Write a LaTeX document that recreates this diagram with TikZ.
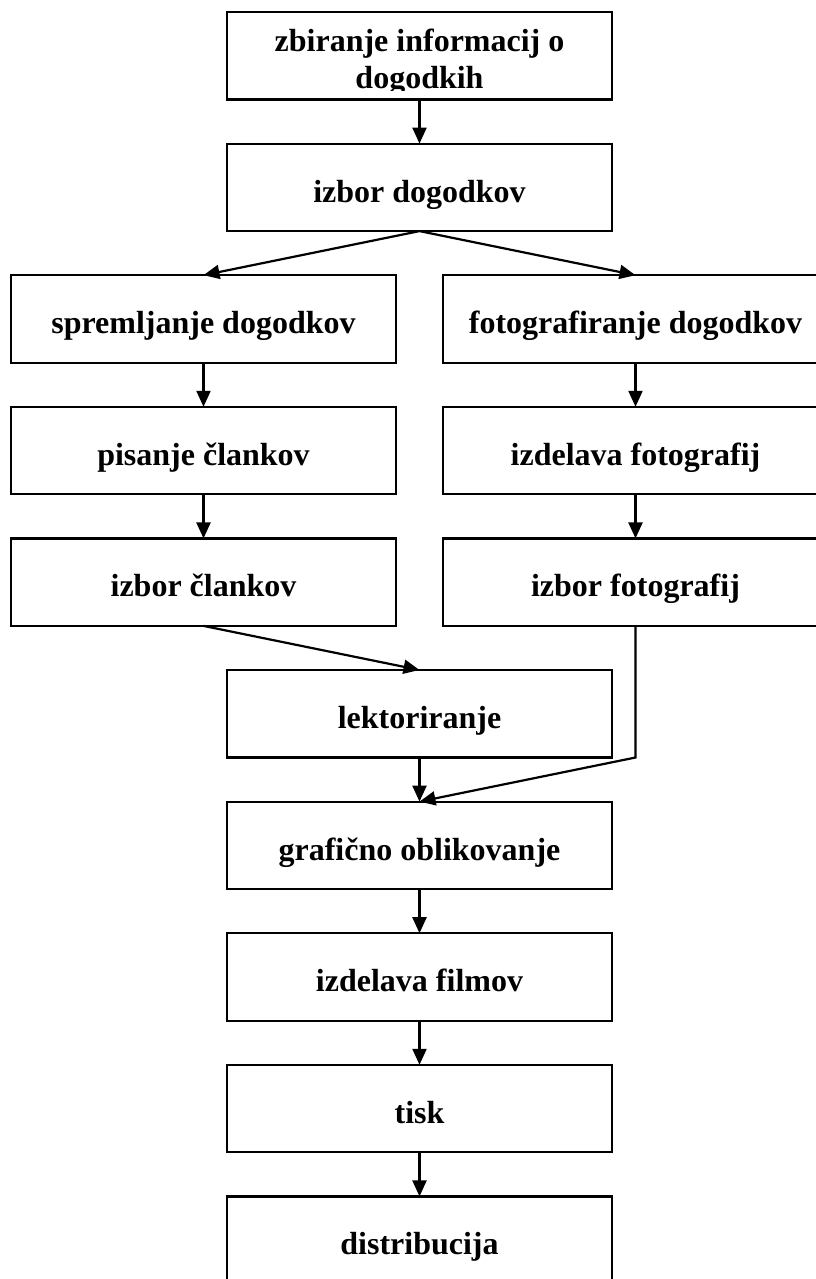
\documentclass[tikz,border=0pt]{standalone}
\usepackage{fontspec}
\setmainfont{Liberation Serif}
\usetikzlibrary{arrows.meta}
\tikzset{
  box/.style={draw=black, line width=2.2pt, fill=white, anchor=north, minimum width=385pt,
    inner sep=0pt, outer sep=0pt, text height=58.5pt, text depth=29pt,
    font=\fontsize{32}{37}\selectfont\bfseries},
  emptybox/.style={draw=black, line width=2.2pt, anchor=north, minimum width=385pt,
    minimum height=87.5pt, inner sep=0pt, outer sep=0pt},
  toptext/.style={anchor=base, inner sep=0pt, font=\fontsize{32}{37}\selectfont\bfseries},
  arr/.style={draw=black, line width=2.2pt, -{Triangle[length=16pt,width=14pt]}}
}
\begin{document}
\begin{tikzpicture}[x=1pt,y=-1pt]
\clip (0,0) rectangle (816,1279);
\fill[white] (0,0) rectangle (816,1279);
% middle column
\node[emptybox] (zbi) at (419.5,12) {};
\begin{scope}
  \clip (228,13) rectangle (611,91);
  \node[toptext] (zbi1) at (419.5,52) {zbiranje informacij o};
  \node[toptext] (zbi2) at (419.5,89) {dogodkih};
\end{scope}
\node[box] (izd) at (419.5,143.6) {izbor dogodkov};
% left column
\node[box] (spr) at (203.5,275.2) {spremljanje dogodkov};
\node[box] (pis) at (203.5,406.8) {pisanje člankov};
\node[box] (izc) at (203.5,538.4) {izbor člankov};
% right column
\node[box] (fot) at (635.5,275.2) {fotografiranje dogodkov};
\node[box] (izde) at (635.5,406.8) {izdelava fotografij};
\node[box] (izf) at (635.5,538.4) {izbor fotografij};
% lower middle
\node[box] (lek) at (419.5,670) {lektoriranje};
\node[box] (gra) at (419.5,801.6) {grafično oblikovanje};
\node[box] (fil) at (419.5,933.2) {izdelava filmov};
\node[box] (tis) at (419.5,1064.8) {tisk};
\node[box] (dis) at (419.5,1196.4) {distribucija};
% connectors
\draw[arr] (zbi.south) -- (izd.north);
\draw[arr] (izd.south) -- (spr.north);
\draw[arr] (izd.south) -- (fot.north);
\draw[arr] (spr.south) -- (pis.north);
\draw[arr] (pis.south) -- (izc.north);
\draw[arr] (fot.south) -- (izde.north);
\draw[arr] (izde.south) -- (izf.north);
\draw[arr] (izc.south) -- (lek.north);
\coordinate (bend) at (izf.south |- lek.south);
\draw[arr] (izf.south) -- (bend) -- (gra.north);
\draw[arr] (lek.south) -- (gra.north);
\draw[arr] (gra.south) -- (fil.north);
\draw[arr] (fil.south) -- (tis.north);
\draw[arr] (tis.south) -- (dis.north);
\end{tikzpicture}
\end{document}
